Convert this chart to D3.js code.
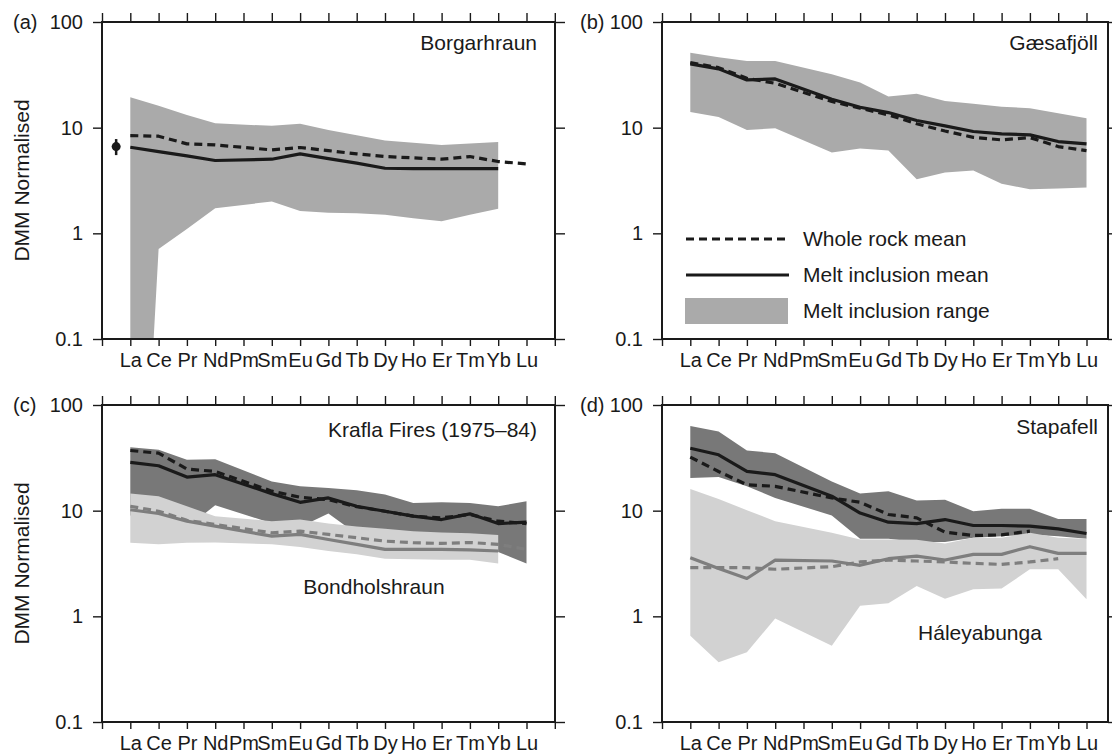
<!DOCTYPE html>
<html>
<head>
<meta charset="utf-8">
<script src="https://cdn.jsdelivr.net/npm/d3@7"></script>
<style>
  html, body { margin: 0; padding: 0; background: #fff; }
  svg { display: block; }
  text { font-family: "Liberation Sans", Arial, Helvetica, sans-serif; fill: #1a1a1a; }
</style>
</head>
<body>
<svg id="chart" width="1112" height="754"></svg>
<script>
// Rare earth elements along the x axis (Pm has no data, lines run through it)
const elements = ["La", "Ce", "Pr", "Nd", "Pm", "Sm", "Eu", "Gd", "Tb", "Dy", "Ho", "Er", "Tm", "Yb", "Lu"];
const yTicks = [0.1, 1, 10, 100];
const yTickLabels = ["0.1", "1", "10", "100"];

// (a) Borgarhraun
const borgRangeMax = [19.4, 16.1, 13.2, 11.0, null, 10.4, 10.9, 9.5, 8.5, 7.55, 7.2, 6.87, 7.1, 7.3, null];
const borgRangeMin = [0.00001, 0.71, 1.10, 1.73, null, 2.0, 1.63, 1.57, 1.55, 1.50, 1.39, 1.30, 1.50, 1.71, null];
const borgMiMean   = [6.53, 5.94, 5.41, 4.89, null, 5.03, 5.65, 5.1, 4.61, 4.13, 4.1, 4.1, 4.1, 4.1, null];
const borgWrMean   = [8.42, 8.3, 7.03, 6.87, null, 6.16, 6.49, 6.07, 5.65, 5.33, 5.18, 5.03, 5.33, 4.78, 4.54];
// single whole-rock value plotted left of La, with its spread
const borgWrPoint  = [6.62];
const borgWrSpread = [5.5, 7.8];

// (b) Gæsafjöll
const gaesRangeMax = [51.3, 46.3, 42.8, 42.8, null, 32.0, 26.8, 19.7, 20.9, 17.9, 16.8, 15.8, 15.3, 13.7, 12.3];
const gaesRangeMin = [14.1, 12.6, 9.5, 9.9, null, 5.82, 6.34, 6.07, 3.25, 3.76, 3.93, 2.94, 2.62, 2.66, 2.72];
const gaesMiMean   = [40.1, 36.0, 28.3, 28.9, null, 18.6, 15.6, 13.9, 11.7, 10.4, 9.2, 8.73, 8.55, 7.39, 7.03];
const gaesWrMean   = [41.3, 37.0, 29.3, 26.3, null, 17.7, 15.3, 13.2, 10.9, 9.3, 8.1, 7.66, 8.06, 6.62, 6.07];

// (c) Krafla Fires (1975–84) and Bondholshraun
const kraflaRangeMax = [39.9, 37.7, 30.3, 30.7, null, 18.9, 17.0, 16.4, 15.6, 14.2, 11.8, 12.0, 11.8, 11.0, 12.3];
const kraflaRangeMin = [9.0, 8.5, 6.9, 11.25, null, 7.6, 7.0, 9.4, 6.0, 5.5, 5.0, 5.0, 5.0, 4.06, 3.17];
const kraflaMiMean   = [28.6, 26.6, 20.8, 21.9, null, 14.5, 12.0, 13.2, 11.0, 9.88, 8.87, 8.24, 9.33, 7.55, 7.78];
const kraflaWrMean   = [37.1, 35.0, 24.8, 23.5, null, 15.3, 13.4, 12.7, 10.9, 9.88, 8.87, 8.55, 9.2, 7.95, 7.55];
const bondRangeMax   = [14.5, 13.7, 11.0, 8.87, null, 7.95, 8.24, 7.55, 7.1, 6.74, 6.4, 6.2, 6.1, 5.87, null];
const bondRangeMin   = [4.97, 4.8, 4.97, 5.0, null, 4.8, 4.52, 4.15, 3.86, 3.51, 3.46, 3.43, 3.43, 3.17, null];
const bondMiMean     = [10.2, 9.4, 7.95, 7.13, null, 5.74, 5.96, 5.34, 4.79, 4.3, 4.3, 4.3, 4.25, 4.15, null];
const bondWrMean     = [11.0, 9.88, 8.1, 7.4, null, 6.17, 6.4, 5.96, 5.54, 5.15, 4.97, 4.9, 5.0, 4.8, 4.3];

// (d) Stapafell and Háleyabunga
const stapRangeMax = [63.4, 56.1, 37.1, 35.0, null, 18.9, 14.5, 15.3, 12.5, 12.7, 9.88, 10.4, 10.4, 8.36, 8.36];
const stapRangeMin = [20.4, 20.8, 17.0, 13.2, null, 9.0, 5.42, 5.42, 5.04, 5.04, 5.54, 5.74, 5.96, 5.74, 5.42];
const stapMiMean   = [39.0, 33.8, 23.5, 21.9, null, 13.7, 9.5, 7.78, 7.55, 8.24, 7.24, 7.24, 7.13, 6.73, 6.08];
const stapWrMean   = [32.1, 23.5, 17.6, 17.0, null, 13.2, 12.0, 9.2, 8.55, 6.26, 5.82, 5.9, 6.4, null, null];
const haleRangeMax = [16.0, 12.9, 10.1, 7.95, null, 6.17, 5.34, 5.34, 5.3, 4.9, 5.54, 5.54, 6.17, 5.54, 5.42];
const haleRangeMin = [0.655, 0.367, 0.456, 0.955, null, 0.527, 1.26, 1.33, 1.94, 1.47, 1.80, 1.83, 2.79, 2.79, 1.45];
const haleMiMean   = [3.59, 2.83, 2.28, 3.41, null, 3.34, 3.04, 3.51, 3.72, 3.41, 3.86, 3.86, 4.56, 3.94, 3.94];
const haleWrMean   = [2.89, 2.89, 2.89, 2.79, null, 2.95, 3.27, 3.41, 3.34, 3.27, 3.17, 3.1, 3.27, 3.51, null];

// ---- styling ----
const FONT_TICK = 20;
const FONT_LABEL = 21;
const STEP = 28.3;      // spacing between element columns
const PH = 317;         // plot height (three decades)
const INK = "#1a1a1a";
const FILL_MID = "#aaaaaa";
const FILL_DARK = "#787878";
const FILL_LIGHT = "#d2d2d2";
const LINE_GREY = "#7e7e7e";

const panels = [
  {
    key: "a", left: 102, top: 22, right: 555, tag: "(a)", tagX: 13, yLabel: true,
    title: "Borgarhraun", titleX: 537, titleY: 43,
    ranges: [{ min: borgRangeMin, max: borgRangeMax, fill: FILL_MID }],
    lines: [
      { values: borgWrMean, color: INK, dashed: true },
      { values: borgMiMean, color: INK, dashed: false }
    ],
    point: { pos: -0.5, value: borgWrPoint[0], spread: borgWrSpread }
  },
  {
    key: "b", left: 662, top: 22, right: 1108, tag: "(b)", tagX: 580, yLabel: false,
    title: "Gæsafjöll", titleX: 1098, titleY: 43,
    ranges: [{ min: gaesRangeMin, max: gaesRangeMax, fill: FILL_MID }],
    lines: [
      { values: gaesWrMean, color: INK, dashed: true },
      { values: gaesMiMean, color: INK, dashed: false }
    ],
    legend: true
  },
  {
    key: "c", left: 102, top: 405, right: 555, tag: "(c)", tagX: 13, yLabel: true,
    title: "Krafla Fires (1975\u201384)", titleX: 537, titleY: 430,
    ranges: [
      { min: kraflaRangeMin, max: kraflaRangeMax, fill: FILL_DARK },
      { min: bondRangeMin, max: bondRangeMax, fill: FILL_LIGHT }
    ],
    lines: [
      { values: bondWrMean, color: LINE_GREY, dashed: true },
      { values: bondMiMean, color: LINE_GREY, dashed: false },
      { values: kraflaWrMean, color: INK, dashed: true },
      { values: kraflaMiMean, color: INK, dashed: false }
    ],
    note: { text: "Bondholshraun", x: 374, y: 587 }
  },
  {
    key: "d", left: 662, top: 405, right: 1108, tag: "(d)", tagX: 580, yLabel: false,
    title: "Stapafell", titleX: 1098, titleY: 427,
    ranges: [
      { min: stapRangeMin, max: stapRangeMax, fill: FILL_DARK },
      { min: haleRangeMin, max: haleRangeMax, fill: FILL_LIGHT }
    ],
    lines: [
      { values: haleWrMean, color: LINE_GREY, dashed: true },
      { values: haleMiMean, color: LINE_GREY, dashed: false },
      { values: stapWrMean, color: INK, dashed: true },
      { values: stapMiMean, color: INK, dashed: false }
    ],
    note: { text: "Háleyabunga", x: 980, y: 633 }
  }
];

const svg = d3.select("#chart");
const defs = svg.append("defs");

function styleAxis(g) {
  g.attr("font-size", FONT_TICK).attr("font-family", null).attr("color", INK);
  g.select(".domain").remove();
  g.selectAll(".tick line").attr("stroke-width", 1.4);
}

function drawPanel(p) {
  const x = d3.scaleLinear().domain([-1, 15]).range([p.left, p.left + 16 * STEP]);
  const y = d3.scaleLog().domain([0.1, 100]).range([p.top + PH, p.top]);
  const g = svg.append("g").attr("class", "panel-" + p.key);

  defs.append("clipPath").attr("id", "clip-" + p.key)
    .append("rect")
    .attr("x", p.left).attr("y", p.top)
    .attr("width", p.right - p.left).attr("height", PH);

  const plot = g.append("g").attr("clip-path", `url(#clip-${p.key})`);

  // melt inclusion ranges
  p.ranges.forEach(r => {
    const pts = elements.map((e, i) => ({ i, lo: r.min[i], hi: r.max[i] }))
      .filter(d => d.lo != null && d.hi != null);
    plot.append("path")
      .attr("d", d3.area().x(d => x(d.i)).y0(d => y(d.lo)).y1(d => y(d.hi))(pts))
      .attr("fill", r.fill);
  });

  // means
  p.lines.forEach(l => {
    const pts = l.values.map((v, i) => ({ i, v })).filter(d => d.v != null);
    plot.append("path")
      .attr("d", d3.line().x(d => x(d.i)).y(d => y(d.v))(pts))
      .attr("fill", "none")
      .attr("stroke", l.color)
      .attr("stroke-width", 3.2)
      .attr("stroke-linejoin", "round")
      .attr("stroke-dasharray", l.dashed ? "8,5" : null);
  });

  if (p.point) {
    const px = x(p.point.pos);
    plot.append("line")
      .attr("x1", px).attr("x2", px)
      .attr("y1", y(p.point.spread[0])).attr("y2", y(p.point.spread[1]))
      .attr("stroke", INK).attr("stroke-width", 2.5);
    plot.append("circle")
      .attr("cx", px).attr("cy", y(p.point.value)).attr("r", 4.5)
      .attr("fill", INK);
  }

  // axes on all four sides, ticks pointing outward
  const cols = d3.range(-1, 16).filter(i => x(i) <= p.right + 1);
  g.append("g").attr("transform", `translate(${p.left},0)`)
    .call(d3.axisLeft(y).tickValues(yTicks).tickFormat((d, i) => yTickLabels[i]).tickSize(9).tickPadding(10))
    .call(styleAxis);
  g.append("g").attr("transform", `translate(${p.right},0)`)
    .call(d3.axisRight(y).tickValues(yTicks).tickFormat("").tickSize(10))
    .call(styleAxis);
  g.append("g").attr("transform", `translate(0,${p.top})`)
    .call(d3.axisTop(x).tickValues(cols).tickFormat("").tickSize(9))
    .call(styleAxis);
  g.append("g").attr("transform", `translate(0,${p.top + PH})`)
    .call(d3.axisBottom(x).tickValues(cols)
      .tickFormat(i => elements[i] || "").tickSize(7).tickPadding(7))
    .call(styleAxis);

  g.append("rect")
    .attr("x", p.left).attr("y", p.top)
    .attr("width", p.right - p.left).attr("height", PH)
    .attr("fill", "none").attr("stroke", INK).attr("stroke-width", 2);

  // labels
  g.append("text").attr("x", p.tagX).attr("y", p.top).attr("dy", "0.35em")
    .attr("font-size", FONT_TICK).text(p.tag);
  g.append("text").attr("x", p.titleX).attr("y", p.titleY).attr("dy", "0.35em")
    .attr("text-anchor", "end").attr("font-size", FONT_LABEL).text(p.title);
  if (p.yLabel) {
    g.append("text")
      .attr("transform", `translate(22,${p.top + PH / 2}) rotate(-90)`)
      .attr("dy", "0.35em").attr("text-anchor", "middle")
      .attr("font-size", FONT_LABEL).text("DMM Normalised");
  }
  if (p.note) {
    g.append("text").attr("x", p.note.x).attr("y", p.note.y).attr("dy", "0.35em")
      .attr("text-anchor", "middle").attr("font-size", FONT_LABEL).text(p.note.text);
  }
  if (p.legend) {
    const lg = g.append("g");
    const items = [
      { label: "Whole rock mean", kind: "dashed", y: 239 },
      { label: "Melt inclusion mean", kind: "solid", y: 275 },
      { label: "Melt inclusion range", kind: "fill", y: 311 }
    ];
    items.forEach(it => {
      if (it.kind === "fill") {
        lg.append("rect").attr("x", 685).attr("y", it.y - 13).attr("width", 103).attr("height", 26)
          .attr("fill", FILL_MID);
      } else {
        lg.append("line").attr("x1", 686).attr("x2", 789).attr("y1", it.y).attr("y2", it.y)
          .attr("stroke", INK).attr("stroke-width", 3.2)
          .attr("stroke-dasharray", it.kind === "dashed" ? "8,5" : null);
      }
      lg.append("text").attr("x", 803).attr("y", it.y).attr("dy", "0.35em")
        .attr("font-size", FONT_LABEL).text(it.label);
    });
  }
}

panels.forEach(drawPanel);
</script>
</body>
</html>
